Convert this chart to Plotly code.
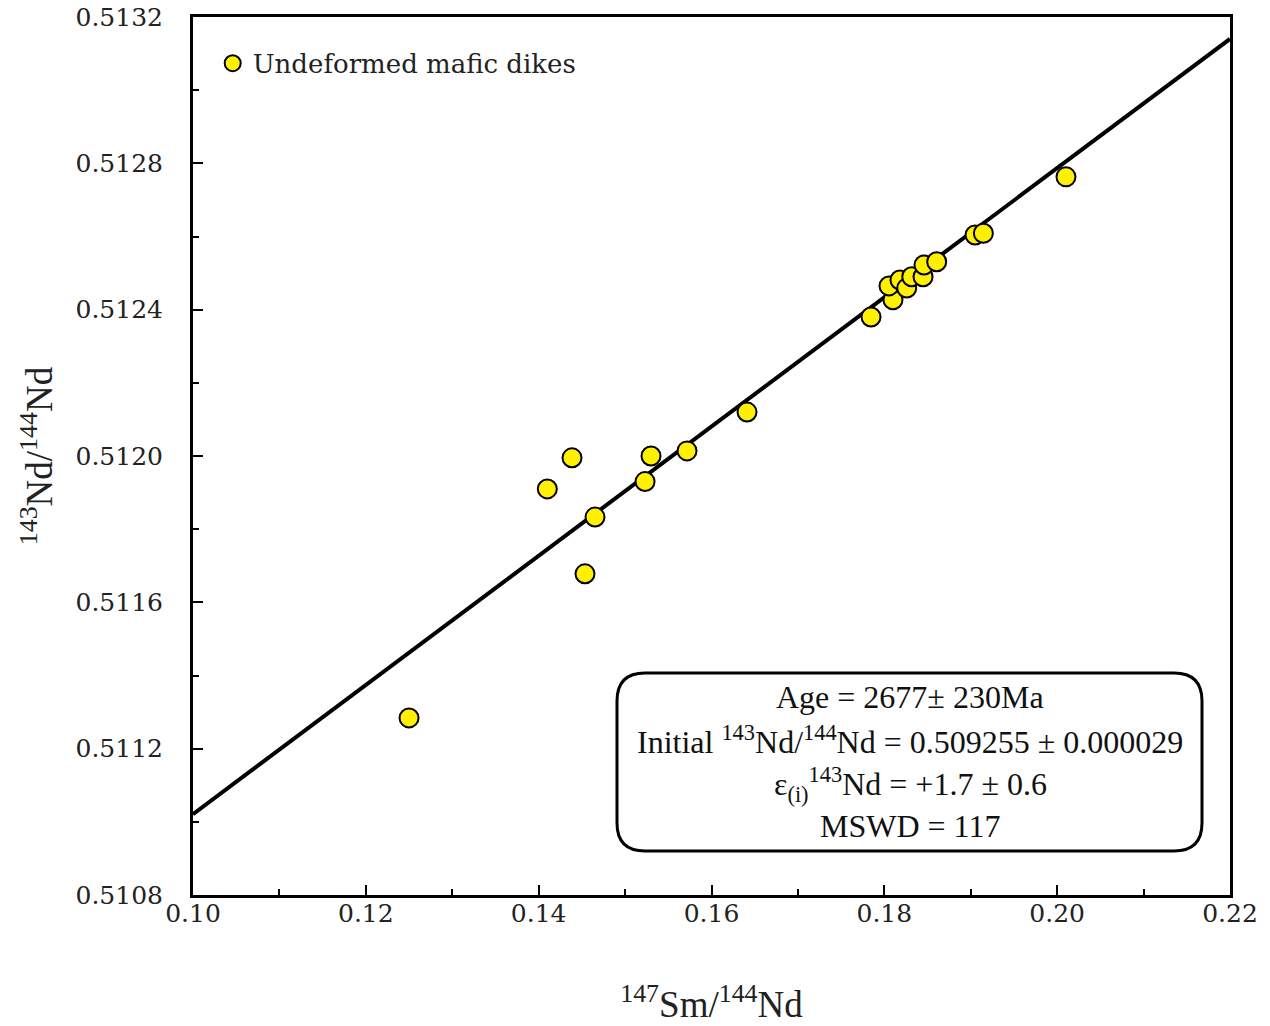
import plotly.graph_objects as go

# Data
sm_nd = [0.1250, 0.1410, 0.14386, 0.14536, 0.14652, 0.15231, 0.15300, 0.15717, 0.16411,
         0.17846, 0.18100, 0.18054, 0.18181, 0.18259, 0.18317, 0.18448, 0.18459, 0.18606,
         0.19050, 0.19146, 0.20102]
nd_nd = [0.511284, 0.511910, 0.511995, 0.511678, 0.511833, 0.511930, 0.512000, 0.512014, 0.512120,
         0.512380, 0.512427, 0.512465, 0.512481, 0.512459, 0.512490, 0.512490, 0.512522, 0.512531,
         0.512604, 0.512609, 0.512763]

# Isochron parameters
intercept = 0.509255
slope = 0.01766
line_x = [0.10, 0.22]
line_y = [intercept + slope * v for v in line_x]

box_lines = [
    "Age = 2677± 230Ma",
    "Initial <sup>143</sup>Nd/<sup>144</sup>Nd = 0.509255 ± 0.000029",
    "ε<sub>(i)</sub><sup>143</sup>Nd = +1.7 ± 0.6",
    "MSWD = 117",
]

fig = go.Figure()
fig.add_trace(go.Scatter(x=line_x, y=line_y, mode="lines",
                         line=dict(color="black", width=4), showlegend=False, hoverinfo="skip"))
fig.add_trace(go.Scatter(x=sm_nd, y=nd_nd, mode="markers", name="Undeformed mafic dikes",
                         marker=dict(size=19, color="#FFF000", line=dict(color="black", width=2))))

serif = "DejaVu Serif"
axis_common = dict(
    showgrid=False, zeroline=False, showline=True, linecolor="black", linewidth=3,
    mirror=True, ticks="inside", ticklen=10, tickwidth=1.5, tickcolor="black",
    tickfont=dict(family=serif, size=25, color="#222"), automargin=False,
)

fig.update_xaxes(range=[0.10, 0.22], tickvals=[0.10, 0.12, 0.14, 0.16, 0.18, 0.20, 0.22],
                 ticktext=["0.10", "0.12", "0.14", "0.16", "0.18", "0.20", "0.22"],
                 minor=dict(dtick=0.01, ticks="inside", ticklen=6, tickcolor="black", tickwidth=1.5),
                 ticklabelstandoff=-6,
                 title=dict(text="<sup>147</sup>Sm/<sup>144</sup>Nd",
                            font=dict(family="Liberation Serif", size=37, color="#222"), standoff=65),
                 **axis_common)
fig.update_yaxes(range=[0.5108, 0.5132],
                 tickvals=[0.5108, 0.5112, 0.5116, 0.5120, 0.5124, 0.5128, 0.5132],
                 ticktext=["0.5108", "0.5112", "0.5116", "0.5120", "0.5124", "0.5128", "0.5132"],
                 minor=dict(dtick=0.0002, ticks="inside", ticklen=6, tickcolor="black", tickwidth=1.5),
                 ticklabelstandoff=22,
                 title=dict(text="<sup>143</sup>Nd/<sup>144</sup>Nd",
                            font=dict(family="Liberation Serif", size=37, color="#222"), standoff=12),
                 **axis_common)

# Rounded annotation box (paper coords)
x0, x1 = (617 - 193) / 1037, (1202 - 193) / 1037
y0, y1 = (895 - 851) / 878, (895 - 673) / 878
rx, ry = 28 / 1037, 28 / 878
path = (f"M {x0+rx},{y0} L {x1-rx},{y0} Q {x1},{y0} {x1},{y0+ry} L {x1},{y1-ry} "
        f"Q {x1},{y1} {x1-rx},{y1} L {x0+rx},{y1} Q {x0},{y1} {x0},{y1-ry} "
        f"L {x0},{y0+ry} Q {x0},{y0} {x0+rx},{y0} Z")
fig.add_shape(type="path", path=path, xref="paper", yref="paper",
              line=dict(color="black", width=3), fillcolor="white")

line_py = [697, 740, 784, 826]
for txt, py in zip(box_lines, line_py):
    fig.add_annotation(x=(910 - 193) / 1037, y=(895 - py) / 878, xref="paper", yref="paper",
                       text=txt, showarrow=False, xanchor="center", yanchor="middle",
                       font=dict(family="Liberation Serif", size=32, color="#111"))

fig.update_layout(
    width=1270, height=1026,
    margin=dict(l=193, r=40, t=17, b=131),
    plot_bgcolor="white", paper_bgcolor="white",
    legend=dict(x=0.019, y=0.974, xanchor="left", yanchor="top", bgcolor="rgba(0,0,0,0)",
                font=dict(family=serif, size=26, color="#222")),
)

fig.write_html("out.html")
